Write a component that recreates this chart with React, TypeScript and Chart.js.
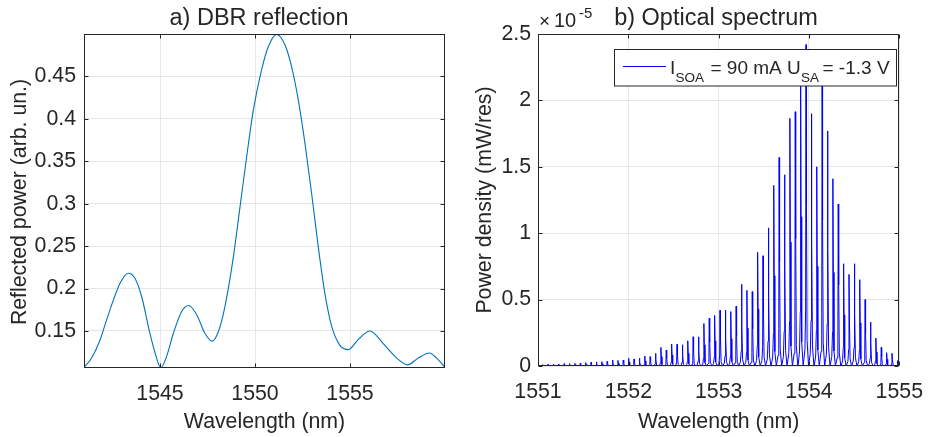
import React, { useEffect, useRef } from "react";
import { Chart, registerables } from "chart.js";

Chart.register(...registerables);

const FONT = '"Liberation Sans", Arial, Helvetica, sans-serif';
const TEXT = "#262626";
const GRID = "#e6e6e6";

// ---------- Panel a) DBR reflection ----------
const dbrWavelength = [
  1541.0, 1541.4, 1541.84, 1542.19, 1542.54, 1542.89, 1543.33, 1543.68, 1544.04, 1544.47,
  1544.82, 1545.04, 1545.35, 1545.7, 1546.14, 1546.51, 1546.93, 1547.37, 1547.75, 1548.07,
  1548.42, 1548.86, 1549.21, 1549.56, 1549.91, 1550.35, 1550.7, 1551.14, 1551.58, 1551.93,
  1552.28, 1552.63, 1552.98, 1553.33, 1553.68, 1554.04, 1554.47, 1554.91, 1555.44, 1556.05,
  1556.75, 1557.46, 1558.02, 1558.6, 1559.18, 1559.56, 1560.0,
];
const dbrReflection = [
  0.107, 0.118, 0.139, 0.163, 0.186, 0.206, 0.218, 0.212, 0.19, 0.147,
  0.118, 0.1065, 0.12, 0.147, 0.173, 0.18, 0.169, 0.147, 0.138, 0.149,
  0.179, 0.237, 0.296, 0.355, 0.41, 0.458, 0.485, 0.4995, 0.487, 0.461,
  0.422, 0.371, 0.312, 0.249, 0.194, 0.155, 0.133, 0.128, 0.14, 0.15,
  0.135, 0.118, 0.11, 0.118, 0.124, 0.118, 0.107,
];
const dbrXTicks = [1545, 1550, 1555];
const dbrYTicks = [0.15, 0.2, 0.25, 0.3, 0.35, 0.4, 0.45];

// ---------- Panel b) Optical spectrum (power in units of 1e-5 mW/res) ----------
const modeWavelength = [
  1551.0515, 1551.111, 1551.1705, 1551.23, 1551.2895, 1551.349, 1551.4085, 1551.468, 1551.5275, 1551.587,
  1551.6465, 1551.706, 1551.7655, 1551.825, 1551.8845, 1551.944, 1552.0035, 1552.063, 1552.1225, 1552.182,
  1552.2415, 1552.301, 1552.3605, 1552.42, 1552.4795, 1552.539, 1552.5985, 1552.658, 1552.7175, 1552.777,
  1552.8365, 1552.896, 1552.9555, 1553.015, 1553.0745, 1553.134, 1553.1935, 1553.253, 1553.3125, 1553.372,
  1553.4315, 1553.491, 1553.5505, 1553.61, 1553.6695, 1553.729, 1553.7885, 1553.848, 1553.9075, 1553.967,
  1554.0265, 1554.086, 1554.1455, 1554.205, 1554.2645, 1554.324, 1554.3835, 1554.443, 1554.5025, 1554.562,
  1554.6215, 1554.681, 1554.7405, 1554.8, 1554.8595, 1554.919, 1554.9785,
];
const modePower = [
  0.01, 0.012, 0.013, 0.015, 0.017, 0.018, 0.02, 0.022, 0.025, 0.028,
  0.03, 0.033, 0.035, 0.045, 0.042, 0.045, 0.058, 0.053, 0.058, 0.075,
  0.07, 0.095, 0.14, 0.12, 0.166, 0.163, 0.16, 0.19, 0.22, 0.22,
  0.32, 0.36, 0.38, 0.42, 0.42, 0.41, 0.45, 0.615, 0.57, 0.56,
  0.856, 0.83, 1.04, 1.36, 1.57, 1.44, 1.865, 1.915, 2.25, 2.42,
  1.9, 1.5, 2.2, 1.77, 1.41, 1.22, 0.77, 0.69, 0.77, 0.65,
  0.5, 0.33, 0.21, 0.14, 0.1, 0.096, 0.04,
];
const specXTicks = [1551, 1552, 1553, 1554, 1555];
const specYTicks = [0, 0.5, 1, 1.5, 2, 2.5];

// line-shape of a single resolved mode (offset in nm, fraction of peak)
const MODE_SHAPE: [number, number][] = [
  [-0.028, 0], [-0.012, 0.05], [-0.004, 0.18], [0, 1], [0.005, 0.5], [0.012, 0.08], [0.028, 0],
];

function spectrumPoints() {
  const pts: { x: number; y: number }[] = [];
  modeWavelength.forEach((w, i) => {
    MODE_SHAPE.forEach(([dx, f]) => pts.push({ x: w + dx, y: modePower[i] * f }));
  });
  return pts;
}

function font(size: number) {
  return `${size}px ${FONT}`;
}

type Decor = {
  title: string;
  titleX: number;
  xLabel: string;
  yLabel: string;
  yLabelX: number;
  yLabelY: number;
  xTicks: number[];
  yTicks: number[];
  extra?: (ctx: CanvasRenderingContext2D, chart: any) => void;
};

function decorPlugin(d: Decor) {
  return {
    id: "decor",
    afterDatasetsDraw(chart: any) {
      const ctx: CanvasRenderingContext2D = chart.ctx;
      const a = chart.chartArea;
      const xs = chart.scales.x;
      const ys = chart.scales.y;
      ctx.save();
      ctx.strokeStyle = TEXT;
      ctx.lineWidth = 1;
      const L = Math.round(a.left) + 0.5;
      const R = Math.round(a.right) - 0.5;
      const T = Math.round(a.top) + 0.5;
      const B = Math.round(a.bottom) - 0.5;
      ctx.strokeRect(L, T, R - L, B - T);
      const tl = 4;
      ctx.beginPath();
      d.xTicks.forEach((v) => {
        const px = Math.round(xs.getPixelForValue(v)) + 0.5;
        ctx.moveTo(px, B);
        ctx.lineTo(px, B - tl);
        ctx.moveTo(px, T);
        ctx.lineTo(px, T + tl);
      });
      d.yTicks.forEach((v) => {
        const py = Math.round(ys.getPixelForValue(v)) + 0.5;
        ctx.moveTo(L, py);
        ctx.lineTo(L + tl, py);
        ctx.moveTo(R, py);
        ctx.lineTo(R - tl, py);
      });
      ctx.stroke();

      ctx.fillStyle = TEXT;
      ctx.textBaseline = "alphabetic";
      // title
      ctx.font = font(23.5);
      ctx.textAlign = "center";
      ctx.fillText(d.title, d.titleX, 25);
      // x label
      ctx.font = font(21.3);
      ctx.fillText(d.xLabel, (a.left + a.right) / 2, 428);
      // y label
      ctx.save();
      ctx.translate(d.yLabelX, d.yLabelY);
      ctx.rotate(-Math.PI / 2);
      ctx.fillText(d.yLabel, 0, 0);
      ctx.restore();
      if (d.extra) d.extra(ctx, chart);
      ctx.restore();
    },
  };
}

function axisCommon(min: number, max: number, ticks: number[], size: number, isX: boolean, pad: number) {
  return {
    type: "linear" as const,
    min,
    max,
    afterBuildTicks: (s: any) => {
      s.ticks = ticks.map((v) => ({ value: v }));
    },
    afterFit: (s: any) => {
      if (isX) s.height = size;
      else s.width = size;
    },
    ticks: {
      callback: (v: any) => String(v),
      font: { family: FONT, size: 21.3 },
      color: TEXT,
      padding: pad,
      maxRotation: 0,
      autoSkip: false,
    },
    grid: { color: GRID, drawTicks: false, lineWidth: 1 },
    border: { display: false },
  };
}

function dbrConfig(): any {
  return {
    type: "line",
    data: {
      datasets: [
        {
          data: dbrWavelength.map((x, i) => ({ x, y: dbrReflection[i] })),
          borderColor: "#0072bd",
          borderWidth: 1.1,
          pointRadius: 0,
          cubicInterpolationMode: "monotone",
          fill: false,
        },
      ],
    },
    options: {
      responsive: false,
      animation: false,
      devicePixelRatio: 1,
      layout: { padding: { left: 0, top: 34, right: 23, bottom: 0 } },
      plugins: { legend: { display: false }, title: { display: false }, tooltip: { enabled: false } },
      scales: {
        x: axisCommon(1541, 1560, dbrXTicks, 69, true, 13),
        y: axisCommon(0.1063, 0.5, dbrYTicks, 84, false, 8),
      },
    },
    plugins: [
      decorPlugin({
        title: "a) DBR reflection",
        titleX: 259,
        xLabel: "Wavelength (nm)",
        yLabel: "Reflected power (arb. un.)",
        yLabelX: 25.5,
        yLabelY: 202,
        xTicks: dbrXTicks,
        yTicks: dbrYTicks,
      }),
    ],
  };
}

function specConfig(): any {
  return {
    type: "line",
    data: {
      datasets: [
        {
          data: spectrumPoints(),
          borderColor: "#0000ff",
          borderWidth: 1,
          pointRadius: 0,
          tension: 0,
          fill: false,
        },
      ],
    },
    options: {
      responsive: false,
      animation: false,
      devicePixelRatio: 1,
      layout: { padding: { left: 0, top: 34, right: 27, bottom: 0 } },
      plugins: { legend: { display: false }, title: { display: false }, tooltip: { enabled: false } },
      scales: {
        x: axisCommon(1551, 1555, specXTicks, 71, true, 13),
        y: axisCommon(0, 2.5, specYTicks, 70, false, 7),
      },
    },
    plugins: [
      decorPlugin({
        title: "b) Optical spectrum",
        titleX: 248,
        xLabel: "Wavelength (nm)",
        yLabel: "Power density (mW/res)",
        yLabelX: 22.5,
        yLabelY: 200,
        xTicks: specXTicks,
        yTicks: specYTicks,
        extra: (ctx) => {
          // exponent label
          ctx.textAlign = "left";
          ctx.font = font(19);
          ctx.fillText("×", 71, 27);
          ctx.font = font(20);
          ctx.fillText("10", 86, 27);
          ctx.font = font(15);
          ctx.fillText("-5", 111, 18);
          // legend box
          const lx = 146.5, ly = 49.5, lw = 282, lh = 36.5;
          ctx.fillStyle = "#ffffff";
          ctx.fillRect(lx, ly, lw, lh);
          ctx.strokeStyle = TEXT;
          ctx.lineWidth = 1;
          ctx.strokeRect(lx, ly, lw, lh);
          ctx.strokeStyle = "#0000ff";
          ctx.beginPath();
          ctx.moveTo(155, 66.5);
          ctx.lineTo(198, 66.5);
          ctx.stroke();
          ctx.fillStyle = TEXT;
          ctx.font = font(19);
          ctx.fillText("I", 202, 73.5);
          ctx.font = font(13.5);
          ctx.fillText("SOA", 207.5, 82);
          ctx.font = font(19);
          ctx.fillText("= 90 mA U", 242.5, 73.5);
          ctx.font = font(13.5);
          ctx.fillText("SA", 333, 82);
          ctx.font = font(19);
          ctx.fillText("= -1.3 V", 354.5, 73.5);
        },
      }),
    ],
  };
}

function ChartCanvas({ left, make }: { left: number; make: () => any }) {
  const ref = useRef<HTMLCanvasElement | null>(null);
  useEffect(() => {
    if (!ref.current) return;
    const chart = new Chart(ref.current, make());
    return () => chart.destroy();
  }, []);
  return (
    <canvas
      ref={ref}
      width={468}
      height={437}
      style={{ position: "absolute", left, top: 0, width: 468, height: 437 }}
    />
  );
}

export default function App() {
  return (
    <div
      style={{
        position: "fixed",
        left: 0,
        top: 0,
        width: 936,
        height: 437,
        background: "#ffffff",
        overflow: "hidden",
      }}
    >
      <ChartCanvas left={0} make={dbrConfig} />
      <ChartCanvas left={468} make={specConfig} />
    </div>
  );
}
